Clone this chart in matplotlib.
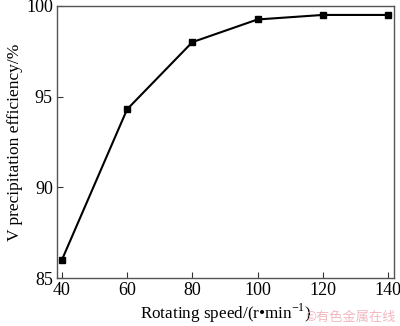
import matplotlib
matplotlib.use('Agg')
from matplotlib import pyplot as plt

# Rotating speed vs V precipitation efficiency #
speed = [40, 60, 80, 100, 120, 140]
efficiency = [86.0, 94.3, 98.0, 99.25, 99.5, 99.5]
x_ticks = [40, 60, 80, 100, 120, 140]
y_ticks = [85, 90, 95, 100]

plt.rcParams['font.family'] = ['Liberation Serif', 'DejaVu Serif']
plt.rcParams['font.size'] = 12.5
plt.rcParams['mathtext.fontset'] = 'custom'
plt.rcParams['mathtext.rm'] = 'Liberation Serif'

fig = plt.figure(figsize=(4, 3.26), dpi=100)
ax = fig.add_axes([0.1425, 0.147, 0.842, 0.835])

ax.plot(speed, efficiency, color='k', linewidth=1.5, marker='s', markersize=5)

ax.set_xlim(38.5, 141.8)
ax.set_ylim(85, 100)
ax.set_xticks(x_ticks)
ax.set_yticks(y_ticks)
ax.tick_params(direction='in', length=4, width=0.8, colors='#333333',
               labelcolor='k', labelsize=13, pad=3)
for s in ax.spines.values():
    s.set_color('#555555')
    s.set_linewidth(1.0)

ax.set_xlabel('Rotating speed/(r\u2022min$^{\\mathrm{-1}}$)', fontsize=12.3, labelpad=2)
ax.set_ylabel('V precipitation efficiency/%', labelpad=2)

# watermark
fig.text(0.99, 0.005, '\u00a9有色金属在线', color='#f2b8c0', fontsize=9.5,
         ha='right', va='bottom', family=['Noto Sans CJK SC', 'DejaVu Sans'])

fig.savefig('out.png', dpi=100)
